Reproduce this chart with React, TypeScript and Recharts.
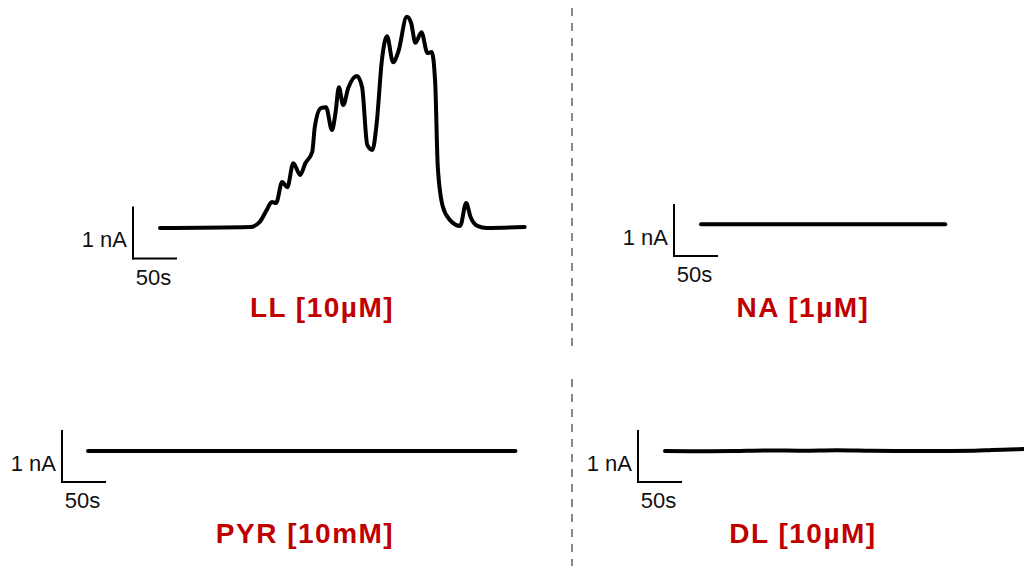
import React from 'react';
import { LineChart, Line, XAxis, YAxis, ReferenceLine } from 'recharts';

// ---- Data (time in s from trace start, current in nA above baseline) ----
const llTime = [0, 105, 116, 124, 130, 135, 142, 148, 155, 163, 169, 177, 180, 187, 193, 200, 204, 208, 213, 219, 229, 235, 241, 247, 252, 258, 264, 271, 277, 287, 292, 297, 304, 311, 316, 320, 323, 329, 337, 349, 356, 361, 369, 380, 424];
const llCurrent = [0, 0.02, 0.12, 0.35, 0.51, 0.49, 0.9, 0.8, 1.27, 1.04, 1.27, 1.49, 1.98, 2.35, 2.37, 1.92, 2.25, 2.76, 2.41, 2.75, 2.98, 2.76, 1.63, 1.53, 2.06, 3.29, 3.76, 3.25, 3.45, 4.14, 4.02, 3.63, 3.84, 3.43, 3.45, 2.84, 1.2, 0.41, 0.16, 0.04, 0.49, 0.22, 0.04, 0, 0.02];

const naTime = [0, 284];
const naCurrent = [0, 0];

const pyrTime = [0, 497];
const pyrCurrent = [0, 0];

const dlTime = [0, 40, 80, 120, 160, 200, 240, 280, 320, 360, 380, 400, 417];
const dlCurrent = [0, -0.005, 0, 0.01, 0.005, 0.015, 0.005, 0, 0, 0.005, 0.02, 0.03, 0.04];

const titles = ['LL [10µM]', 'NA [1µM]', 'PYR [10mM]', 'DL [10µM]'];
const currentScaleLabel = '1 nA';
const timeScaleLabel = '50s';
const SCALE_NA = 1;
const SCALE_S = 50;

// ---- Layout ----
const PX_PER_S = 0.86;
const PX_PER_NA = 51;
const FONT = '"Liberation Sans", Arial, Helvetica, sans-serif';

type Layout = {
  left: number; top: number; width: number; height: number;
  startX: number; baseY: number; barX: number; barY: number;
  titleX: number; titleY: number;
};

const layouts: Layout[] = [
  { left: 70, top: 0, width: 480, height: 295, startX: 160, baseY: 228, barX: 133, barY: 258.5, titleX: 322, titleY: 317 },
  { left: 600, top: 180, width: 370, height: 110, startX: 701, baseY: 224.3, barX: 674, barY: 256, titleX: 803, titleY: 317 },
  { left: 0, top: 410, width: 540, height: 105, startX: 88, baseY: 451, barX: 62, barY: 482, titleX: 305, titleY: 543 },
  { left: 580, top: 410, width: 444, height: 105, startX: 665, baseY: 451, barX: 638, barY: 482, titleX: 803, titleY: 543 },
];

const ScaleLabel = (props: any) => {
  const vb = props.viewBox;
  if (!vb) return null;
  const { x, y, width, height } = vb;
  const common = { fontFamily: FONT, fontSize: 22, fill: '#111' };
  if (props.kind === 'v') {
    return (
      <text x={x - 6} y={y + height / 2 + 14} textAnchor="end" {...common}>
        {props.text}
      </text>
    );
  }
  return (
    <text x={x + width / 2 - 1} y={y + 26} textAnchor="middle" {...common}>
      {props.text}
    </text>
  );
};

function Panel({ layout, time, current }: { layout: Layout; time: number[]; current: number[] }) {
  const data = time.map((t, i) => ({ t, v: current[i] }));
  const { left, top, width, height, startX, baseY, barX, barY } = layout;
  const xMin = (left - startX) / PX_PER_S;
  const xMax = (left + width - startX) / PX_PER_S;
  const yMax = (baseY - top) / PX_PER_NA;
  const yMin = (baseY - top - height) / PX_PER_NA;
  const bx = (barX - startX) / PX_PER_S;
  const by = (baseY - barY) / PX_PER_NA;
  return (
    <div style={{ position: 'absolute', left, top, width, height }}>
      <LineChart width={width} height={height} data={data} margin={{ top: 0, right: 0, bottom: 0, left: 0 }}>
        <XAxis dataKey="t" type="number" domain={[xMin, xMax]} hide allowDataOverflow />
        <YAxis type="number" domain={[yMin, yMax]} hide allowDataOverflow />
        <ReferenceLine
          segment={[{ x: bx, y: by }, { x: bx, y: by + SCALE_NA }]}
          stroke="#000"
          strokeWidth={2}
          strokeLinecap="square"
          ifOverflow="visible"
          label={<ScaleLabel text={currentScaleLabel} kind="v" />}
        />
        <ReferenceLine
          segment={[{ x: bx, y: by }, { x: bx + SCALE_S, y: by }]}
          stroke="#000"
          strokeWidth={2}
          strokeLinecap="square"
          ifOverflow="visible"
          label={<ScaleLabel text={timeScaleLabel} kind="h" />}
        />
        <Line
          dataKey="v"
          type="monotone"
          stroke="#000"
          strokeWidth={4}
          strokeLinejoin="round"
          strokeLinecap="round"
          dot={false}
          activeDot={false}
          isAnimationActive={false}
        />
      </LineChart>
    </div>
  );
}

export default function App() {
  const series = [
    { time: llTime, current: llCurrent },
    { time: naTime, current: naCurrent },
    { time: pyrTime, current: pyrCurrent },
    { time: dlTime, current: dlCurrent },
  ];
  return (
    <div style={{ position: 'absolute', left: 0, top: 0, width: 1024, height: 566, background: '#fff', overflow: 'hidden' }}>
      {series.map((s, i) => (
        <Panel key={i} layout={layouts[i]} time={s.time} current={s.current} />
      ))}
      <svg width={1024} height={566} style={{ position: 'absolute', left: 0, top: 0, pointerEvents: 'none' }}>
        <line x1={572} y1={8} x2={572} y2={347} stroke="#888" strokeWidth={2} strokeDasharray="8 7" />
        <line x1={572} y1={379} x2={572} y2={566} stroke="#888" strokeWidth={2} strokeDasharray="8 7" />
        {titles.map((t, i) => (
          <text
            key={t}
            x={layouts[i].titleX}
            y={layouts[i].titleY}
            textAnchor="middle"
            fontFamily={FONT}
            fontWeight="bold"
            fontSize={28}
            letterSpacing={1.5}
            fill="#c00000"
          >
            {t}
          </text>
        ))}
      </svg>
    </div>
  );
}
